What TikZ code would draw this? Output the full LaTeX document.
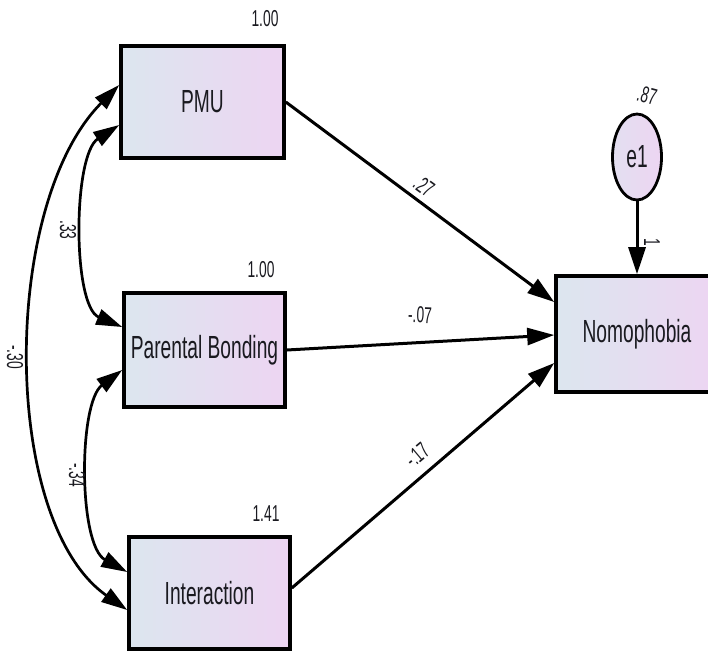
\documentclass[tikz,border=0pt]{standalone}
\usepackage{fontspec}
\usepackage{graphicx}
\setmainfont{Liberation Sans}
\usetikzlibrary{arrows.meta,shapes.geometric,calc}

\definecolor{boxleft}{HTML}{DCE6EF}
\definecolor{boxright}{HTML}{EDD5F2}
\definecolor{ink}{HTML}{1A1A20}

% narrow sans text, as in the path diagram export
\newcommand\vname[1]{{\fontsize{32}{32}\selectfont\scalebox{0.6}[1]{#1}}}
\newcommand\est[1]{{\fontsize{23}{23}\selectfont\scalebox{0.6}[1]{#1}}}

\tikzset{
  varbox/.style={draw=black, line width=3.6pt, left color=boxleft, right color=boxright,
    shading angle=90, inner sep=0pt, text=ink},
  errnode/.style={ellipse, draw=black, line width=2.8pt, left color=boxleft!60!boxright,
    right color=boxright, inner sep=0pt, minimum width=49pt, minimum height=86pt, text=ink},
  pathline/.style={line width=3pt, -{Triangle[length=27pt,width=17pt]}},
  covline/.style={line width=2.7pt, {Triangle[length=26pt,width=16pt]}-{Triangle[length=26pt,width=16pt]}},
  estlbl/.style={inner sep=0pt, text=ink}
}

\begin{document}
\begin{tikzpicture}[x=1pt,y=-1pt]
\clip (0,0) rectangle (708,651);
\fill[white] (0,0) rectangle (708,651);

% observed variables
\node[varbox, minimum width=163pt, minimum height=112pt] (pmu) at (202.5,102) {\vname{PMU}};
\node[varbox, minimum width=161pt, minimum height=114pt] (pb)  at (204.5,350) {\vname{Parental Bonding}};
\node[varbox, minimum width=161pt, minimum height=112pt] (int) at (209.5,593) {\vname{Interaction}};
\node[varbox, minimum width=162pt, minimum height=116pt] (nom) at (637,334) {\vname{Nomophobia}};

% error term
\node[errnode] (e1) at (637,157) {\vname{e1}};

% variances
\node[estlbl] (vpmu) at (265,19)  {\est{1.00}};
\node[estlbl] (vpb)  at (261,270) {\est{1.00}};
\node[estlbl] (vint) at (266,514) {\est{1.41}};
\node[estlbl, rotate=-15] (ve1) at (647,95) {\est{.87}};

% regression paths
\draw[pathline] (pmu.east) -- ($(nom.west)+(0,-32)$);
\draw[pathline] (pb.east) -- ($(nom.west)+(0,1)$);
\draw[pathline] ($(int.east)+(0,-5)$) -- ($(nom.west)+(0,29)$);
\draw[pathline] (e1.south) -- (nom.north);

\node[estlbl, rotate=-36] (w1) at (424,186) {\est{.27}};
\node[estlbl, rotate=-2]  (w2) at (420,315) {\est{-.07}};
\node[estlbl, rotate=40]  (w3) at (417,455) {\est{-.17}};
\node[estlbl, rotate=-90] (w4) at (652,242) {\est{1}};

% covariances
\draw[covline] ($(pmu.west)+(0,-17)$) .. controls +(-118.5,119) and +(-127,-89) .. ($(int.west)+(0,17)$);
\draw[covline] ($(pmu.west)+(0,23)$) .. controls +(-46.5,30) and +(-50,-21) .. ($(pb.west)+(0,-23)$);
\draw[covline] ($(pb.west)+(0,20)$) .. controls +(-44,33) and +(-49,-27) .. ($(int.west)+(0,-21)$);

\node[estlbl, rotate=-90] (c1) at (68,230) {\est{.33}};
\node[estlbl, rotate=-90] (c2) at (15,357) {\est{-.30}};
\node[estlbl, rotate=-90] (c3) at (77,475) {\est{-.34}};
\end{tikzpicture}
\end{document}
